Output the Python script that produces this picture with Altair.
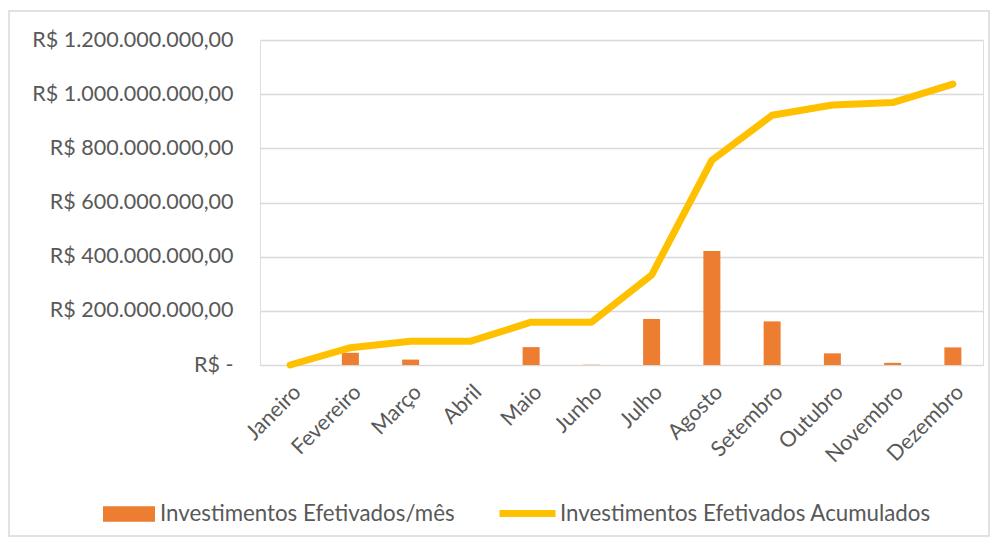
import altair as alt
import pandas as pd

months = ["Janeiro", "Fevereiro", "Março", "Abril", "Maio", "Junho",
          "Julho", "Agosto", "Setembro", "Outubro", "Novembro", "Dezembro"]
monthly = [0, 45e6, 20e6, 0, 66e6, 1e6, 170e6, 421e6, 161e6, 43e6, 8e6, 65e6]
cumulative = [0, 64e6, 88e6, 88e6, 158e6, 158e6, 332e6, 756e6, 922e6, 960e6, 969e6, 1037e6]
y_ticks = [0, 200e6, 400e6, 600e6, 800e6, 1000e6, 1200e6]

BAR = "Investimentos Efetivados/mês"
LINE = "Investimentos Efetivados Acumulados"

df = pd.DataFrame({"mes": months, "mensal": monthly, "acum": cumulative,
                   "s_bar": BAR, "s_line": LINE})

FONT = "Lato"
GREY = "#595959"
FS = 21.5
LFS = 22.3

x = alt.X("mes:N", sort=months,
          scale=alt.Scale(paddingInner=0, paddingOuter=0),
          axis=alt.Axis(title=None, labelAngle=-45, labelAlign="right",
                        labelBaseline="top", labelPadding=16, domain=False,
                        ticks=False, labelFontSize=FS, labelColor=GREY,
                        labelFont=FONT, labelLimit=300))

yscale = alt.Scale(domain=[0, 1.2e9], nice=False)
yaxis = alt.Axis(title=None, values=y_ticks, grid=True, gridColor="#D9D9D9",
                 gridWidth=1.5, domain=False, ticks=False, labelPadding=27,
                 labelFontSize=FS, labelColor=GREY, labelFont=FONT,
                 labelLimit=400,
                 labelExpr="datum.value == 0 ? 'R$ -' : 'R$ ' + join(split(format(datum.value, ','), ','), '.') + ',00'")

bars = alt.Chart(df).mark_bar(size=17).encode(
    x=x,
    y=alt.Y("mensal:Q", scale=yscale, axis=yaxis),
    fill=alt.Fill("s_bar:N", scale=alt.Scale(domain=[BAR], range=["#ED7D31"]),
                  legend=alt.Legend(title=None, orient="none", legendX=-157,
                                    legendY=448, direction="horizontal",
                                    symbolType="M-1,-0.3H1V0.3H-1Z",
                                    symbolSize=2704, symbolStrokeWidth=0,
                                    labelFontSize=LFS, labelColor=GREY,
                                    labelFont=FONT, labelOffset=5,
                                    labelLimit=0)),
)

line = alt.Chart(df).mark_line(strokeWidth=7, strokeCap="round",
                               strokeJoin="round").encode(
    x=x,
    y=alt.Y("acum:Q", scale=yscale),
    stroke=alt.Stroke("s_line:N", scale=alt.Scale(domain=[LINE], range=["#FFC000"]),
                      legend=alt.Legend(title=None, orient="none", legendX=236,
                                        legendY=442, direction="horizontal",
                                        symbolType="stroke", symbolSize=3136,
                                        symbolStrokeWidth=7,
                                        labelFontSize=LFS, labelColor=GREY,
                                        labelFont=FONT, labelOffset=1,
                                        labelLimit=0)),
)

border = alt.Chart(pd.DataFrame({"b": [0]})).mark_rect(
    fill=None, stroke="#D9D9D9", strokeWidth=1.5
).encode(x=alt.value(-251), x2=alt.value(729), y=alt.value(-29), y2=alt.value(496))

chart = alt.layer(bars, line, border).properties(
    width=723, height=325,
    autosize=alt.AutoSizeParams(type="none"),
    padding={"left": 252, "top": 32, "right": 7, "bottom": 173},
).configure_view(stroke=None).configure(font=FONT)

chart.save("out.html", embed_options={"renderer": "svg", "actions": False})
